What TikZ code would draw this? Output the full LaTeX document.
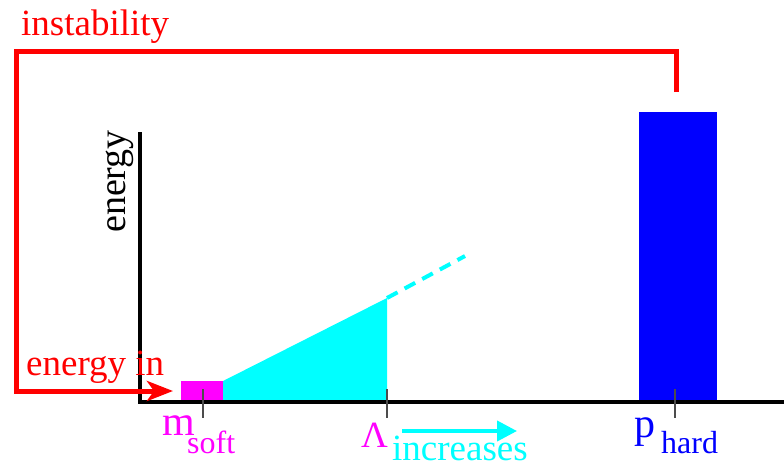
\documentclass[tikz,border=0pt]{standalone}
\usepackage{fontspec}
\setmainfont{Liberation Serif}
\usetikzlibrary{arrows.meta}
\definecolor{pr}{rgb}{1,0,0}
\definecolor{pm}{rgb}{1,0,1}
\definecolor{pc}{rgb}{0,1,1}
\definecolor{pb}{rgb}{0,0,1}
\tikzset{
  lbl/.style={inner sep=0pt, font=\fontsize{37}{41}\selectfont},
  sublbl/.style={inner sep=0pt, font=\fontsize{32}{36}\selectfont},
  bigl/.style={inner sep=0pt, font=\fontsize{42}{46}\selectfont},
  tick/.style={draw=black!70, line width=1.2pt},
  bar/.style={inner sep=0pt, outer sep=0pt, anchor=south west, draw=none},
}
\begin{document}
\begin{tikzpicture}[x=1pt,y=-1pt]
\useasboundingbox (0,0) rectangle (784,464);
% fills
\fill[pc] (223,400) -- (223,381) -- (387,298) -- (387,400) -- cycle;
\draw[pc, line width=4pt, dash pattern=on 12pt off 8pt] (387,298) -- (465,256);
\node[bar, fill=pm, minimum width=42pt, minimum height=19pt] (soft) at (181,400) {};
\node[bar, fill=pb, minimum width=78pt, minimum height=288pt] (hard) at (639,400) {};
% axes
\coordinate (ytop) at (140,132);
\coordinate (orig) at (140,401.5);
\coordinate (xend) at (784,401.5);
\draw[line width=4pt] (ytop) -- (140,403.5);
\draw[line width=4pt] (138,401.5) -- (xend);
% ticks
\draw[tick] (203,389) -- (203,418);
\draw[tick] (387,389) -- (387,418);
\draw[tick] (675,389) -- (675,418);
% red instability loop
\coordinate (rtop) at (676,92);
\draw[pr, line width=5pt, -{Stealth[length=26pt,width=20pt,inset=7pt]}]
  (rtop) -- (676,51) -- (16.5,51) -- (16.5,391) -- (173,391);
% labels
\node[lbl, text=pr, anchor=base west] (inst) at (21,35) {instability};
\node[lbl, text=pr, anchor=base west] (ein) at (26,375) {energy in};
\node[lbl, font=\fontsize{38}{42}\selectfont, rotate=90, anchor=base west] (elab) at (125,233) {energy};
\node[bigl, text=pm, anchor=base west] (m) at (162,435) {m};
\node[sublbl, text=pm, anchor=base west] (ms) at (187,453) {soft};
\node[lbl, text=pm, anchor=base west] (lam) at (361,447) {Λ};
\node[lbl, text=pc, anchor=base west] (inc) at (392,460.5) {increases};
\coordinate (a1) at (402,431);
\coordinate (a2) at (517,431);
\draw[pc, line width=4pt, -{Triangle[length=20pt,width=20pt]}] (a1) -- (a2);
\node[bigl, text=pb, anchor=base west] (p) at (634,437) {p};
\node[sublbl, text=pb, anchor=base west] (ph) at (661,453) {hard};
\end{tikzpicture}
\end{document}
